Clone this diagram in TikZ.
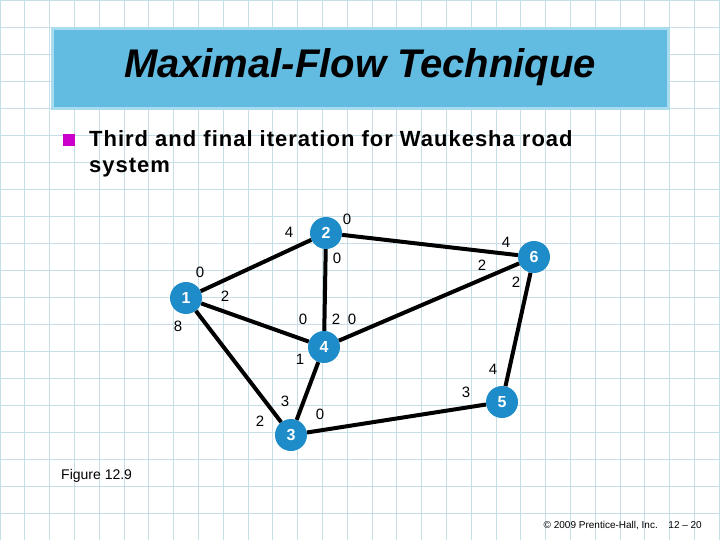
\documentclass[tikz,border=0pt]{standalone}
\usepackage{fontspec}
\setmainfont{Liberation Sans}
\newfontfamily\bulletfont[LetterSpace=4.5]{Liberation Sans}
\begin{document}
\begin{tikzpicture}[x=1pt,y=-1pt,
  vert/.style={circle,fill=nodeblue,minimum size=32pt,inner sep=0pt,text=white,font=\fontsize{16}{16}\selectfont\bfseries},
  lab/.style={font=\fontsize{15}{15}\selectfont,inner sep=0pt},
  edge/.style={line width=4pt},
  btext/.style={anchor=base west,font=\bulletfont\fontsize{22}{22}\selectfont\bfseries,inner sep=0pt}]
\definecolor{nodeblue}{HTML}{1E8CC8}
\definecolor{gridc}{HTML}{C8DEE6}
\definecolor{bannerfill}{HTML}{62BBE0}
\definecolor{bannerline}{HTML}{A8DCEE}
\definecolor{bulletc}{HTML}{CC00CC}
\useasboundingbox (0,0) rectangle (720,540);
\fill[white] (0,0) rectangle (720,540);
\foreach \i in {0,...,29} \draw[gridc,line width=0.8pt] (\i*24.8,0) -- (\i*24.8,540);
\foreach \j in {0,...,20} \draw[gridc,line width=0.8pt] (0,\j*27) -- (720,\j*27);
\node[draw=bannerline,line width=3pt,fill=bannerfill,minimum width=616pt,minimum height=80pt,anchor=north west] (banner) at (51,27) {};
\node[font=\fontsize{40}{40}\selectfont\bfseries\itshape] (title) at (360,67) {Maximal-Flow Technique};
\fill[bulletc] (63,134) rectangle (75,146);
\node[btext] (b1) at (89,147) {Third and final iteration for Waukesha road};
\node[btext] (b2) at (89,173) {system};
\node[vert] (n1) at (186,298) {1};
\node[vert] (n2) at (326,233) {2};
\node[vert] (n3) at (291,435) {3};
\node[vert] (n4) at (324,347) {4};
\node[vert] (n5) at (502,402) {5};
\node[vert] (n6) at (534,257) {6};
\draw[edge] (n1) -- (n2);
\draw[edge] (n1) -- (n4);
\draw[edge] (n1) -- (n3);
\draw[edge] (n2) -- (n4);
\draw[edge] (n2) -- (n6);
\draw[edge] (n4) -- (n6);
\draw[edge] (n4) -- (n3);
\draw[edge] (n3) -- (n5);
\draw[edge] (n5) -- (n6);
\node[lab] (l1) at (289,232) {4};
\node[lab] (l2) at (347,219) {0};
\node[lab] (l3) at (337,258) {0};
\node[lab] (l4) at (506,242) {4};
\node[lab] (l5) at (482,265) {2};
\node[lab] (l6) at (516,282) {2};
\node[lab] (l7) at (200,272) {0};
\node[lab] (l8) at (225,296) {2};
\node[lab] (l9) at (178,326) {8};
\node[lab] (l10) at (303,319) {0};
\node[lab] (l11) at (336,319) {2};
\node[lab] (l12) at (352,319) {0};
\node[lab] (l13) at (300,359) {1};
\node[lab] (l14) at (260,421) {2};
\node[lab] (l15) at (285,401) {3};
\node[lab] (l16) at (320,414) {0};
\node[lab] (l17) at (466,392) {3};
\node[lab] (l18) at (493,369) {4};
\node[anchor=base west,font=\fontsize{14}{14}\selectfont,inner sep=0pt] (fig) at (61,479) {Figure 12.9};
\node[anchor=base east,font=\fontsize{10}{10}\selectfont,inner sep=0pt] (copy) at (658,528) {© 2009 Prentice-Hall, Inc.};
\node[anchor=base east,font=\fontsize{10}{10}\selectfont,inner sep=0pt] (pg) at (702,528) {12 – 20};
\end{tikzpicture}
\end{document}
